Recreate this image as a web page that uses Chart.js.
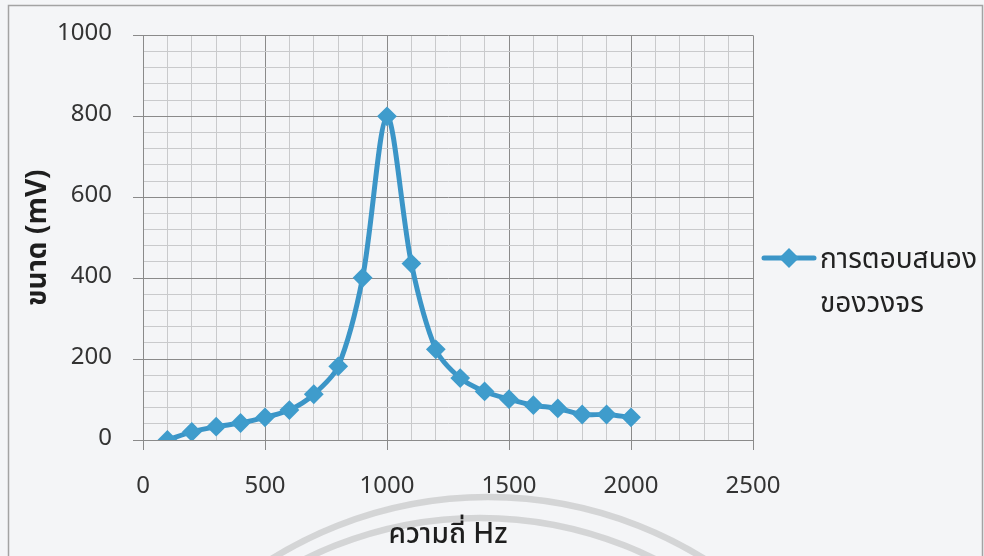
<!DOCTYPE html>
<html lang="th">
<head>
<meta charset="utf-8">
<title>การตอบสนองของวงจร</title>
<script src="https://cdn.jsdelivr.net/npm/chart.js@4.4.1/dist/chart.umd.min.js"></script>
<style>
  html, body { margin: 0; padding: 0; background: #f4f5f7; }
  #wrap { width: 984px; height: 556px; position: relative; }
  canvas { display: block; }
</style>
</head>
<body>
<div id="wrap"><canvas id="chart" width="984" height="556"></canvas></div>
<script>
// Frequency sweep (Hz) and measured output amplitude (mV)
const frequencies = [100, 200, 300, 400, 500, 600, 700, 800, 900, 1000,
                     1100, 1200, 1300, 1400, 1500, 1600, 1700, 1800, 1900, 2000];
const amplitudes  = [0, 20, 33, 42, 56, 74, 113, 182, 401, 800,
                     436, 224, 153, 120, 101, 86, 78, 63, 63, 56];
const seriesName  = ['การตอบสนอง', 'ของวงจร'];
const xTitle = 'ความถี่ Hz';
const yTitle = 'ขนาด (mV)';
const xMajorTicks = [0, 500, 1000, 1500, 2000, 2500];
const yMajorTicks = [0, 200, 400, 600, 800, 1000];

const LINE_COLOR = '#3b95c7';
const POINT_COLOR = '#3f9ccc';
const MAJOR_GRID = '#8a8a8a';
const MINOR_GRID = '#c9cacc';
const FONT = "'Noto Sans Thai', 'Noto Sans', 'Open Sans', sans-serif";

Chart.defaults.font.family = FONT;
Chart.defaults.color = '#333';

const isMajor = (list, v) => list.includes(Math.round(v));

// Page background, frame and the faint circular stamp near the bottom
const backdrop = {
  id: 'backdrop',
  beforeDraw(chart) {
    const ctx = chart.ctx;
    ctx.save();
    ctx.fillStyle = '#f4f5f7';
    ctx.fillRect(0, 0, chart.width, chart.height);
    ctx.strokeStyle = '#a3a3a3';
    ctx.lineWidth = 1.5;
    ctx.strokeRect(8.5, 5.5, 974, 560);
    ctx.strokeStyle = 'rgba(160,160,160,0.38)';
    ctx.lineWidth = 6.5;
    ctx.beginPath();
    ctx.arc(488, 906, 409, 0, Math.PI * 2);
    ctx.stroke();
    ctx.beginPath();
    ctx.arc(480, 911, 393, 0, Math.PI * 2);
    ctx.stroke();
    ctx.restore();
  }
};

// Legend on the right: line sample with diamond marker, two-line label
const sideLegend = {
  id: 'sideLegend',
  afterDraw(chart) {
    const ctx = chart.ctx;
    const ds = chart.data.datasets[0];
    const x0 = 764, x1 = 814, y = 258, cx = (x0 + x1) / 2;
    ctx.save();
    ctx.strokeStyle = ds.borderColor;
    ctx.lineWidth = 5;
    ctx.lineCap = 'round';
    ctx.beginPath();
    ctx.moveTo(x0, y);
    ctx.lineTo(x1, y);
    ctx.stroke();
    ctx.fillStyle = ds.pointBackgroundColor;
    ctx.beginPath();
    ctx.moveTo(cx - 10, y);
    ctx.lineTo(cx, y - 10);
    ctx.lineTo(cx + 10, y);
    ctx.lineTo(cx, y + 10);
    ctx.closePath();
    ctx.fill();
    ctx.fillStyle = '#222';
    ctx.font = '28px ' + FONT;
    ctx.textBaseline = 'middle';
    ctx.textAlign = 'left';
    ctx.fillText(seriesName[0], 820, 262);
    ctx.fillText(seriesName[1], 820, 306);
    ctx.restore();
  }
};

new Chart(document.getElementById('chart'), {
  type: 'line',
  data: {
    datasets: [{
      label: seriesName.join(''),
      data: frequencies.map((f, i) => ({ x: f, y: amplitudes[i] })),
      borderColor: LINE_COLOR,
      backgroundColor: LINE_COLOR,
      pointBackgroundColor: POINT_COLOR,
      pointBorderColor: POINT_COLOR,
      borderWidth: 5,
      pointStyle: 'rectRot',
      pointRadius: 8.5,
      pointBorderWidth: 2,
      tension: 0.3,
      fill: false
    }]
  },
  options: {
    responsive: false,
    animation: false,
    events: [],
    layout: { padding: { left: 24, right: 231, top: 33, bottom: 0 } },
    plugins: {
      legend: { display: false },
      tooltip: { enabled: false }
    },
    scales: {
      x: {
        type: 'linear',
        min: 0, max: 2500,
        afterFit(scale) { scale.height = 116; },
        border: { color: MAJOR_GRID, width: 1 },
        grid: {
          color: c => isMajor(xMajorTicks, c.tick.value) ? MAJOR_GRID : MINOR_GRID,
          tickColor: c => isMajor(xMajorTicks, c.tick.value) ? MAJOR_GRID : 'rgba(0,0,0,0)',
          tickLength: 10,
          lineWidth: 1
        },
        ticks: {
          stepSize: 100,
          autoSkip: false,
          maxRotation: 0,
          padding: 24,
          font: { size: 24 },
          color: '#333',
          callback: v => isMajor(xMajorTicks, v) ? String(v) : ''
        },
        title: {
          display: true,
          text: xTitle,
          font: { size: 28, weight: '500' },
          color: '#1e1e1e',
          padding: { top: 0, bottom: 2 }
        }
      },
      y: {
        type: 'linear',
        min: 0, max: 1000,
        afterFit(scale) { scale.width = 119; },
        border: { color: MAJOR_GRID, width: 1 },
        grid: {
          color: c => isMajor(yMajorTicks, c.tick.value) ? MAJOR_GRID : MINOR_GRID,
          tickColor: c => isMajor(yMajorTicks, c.tick.value) ? MAJOR_GRID : 'rgba(0,0,0,0)',
          tickLength: 10,
          lineWidth: 1
        },
        ticks: {
          stepSize: 40,
          autoSkip: false,
          padding: 21,
          font: { size: 24 },
          color: '#333',
          callback: v => isMajor(yMajorTicks, v) ? String(v) : ''
        },
        title: {
          display: true,
          text: yTitle,
          font: { size: 28, weight: 'bold' },
          color: '#1e1e1e',
          padding: { top: 0, bottom: 0 }
        }
      }
    }
  },
  plugins: [backdrop, sideLegend]
});
</script>
</body>
</html>
